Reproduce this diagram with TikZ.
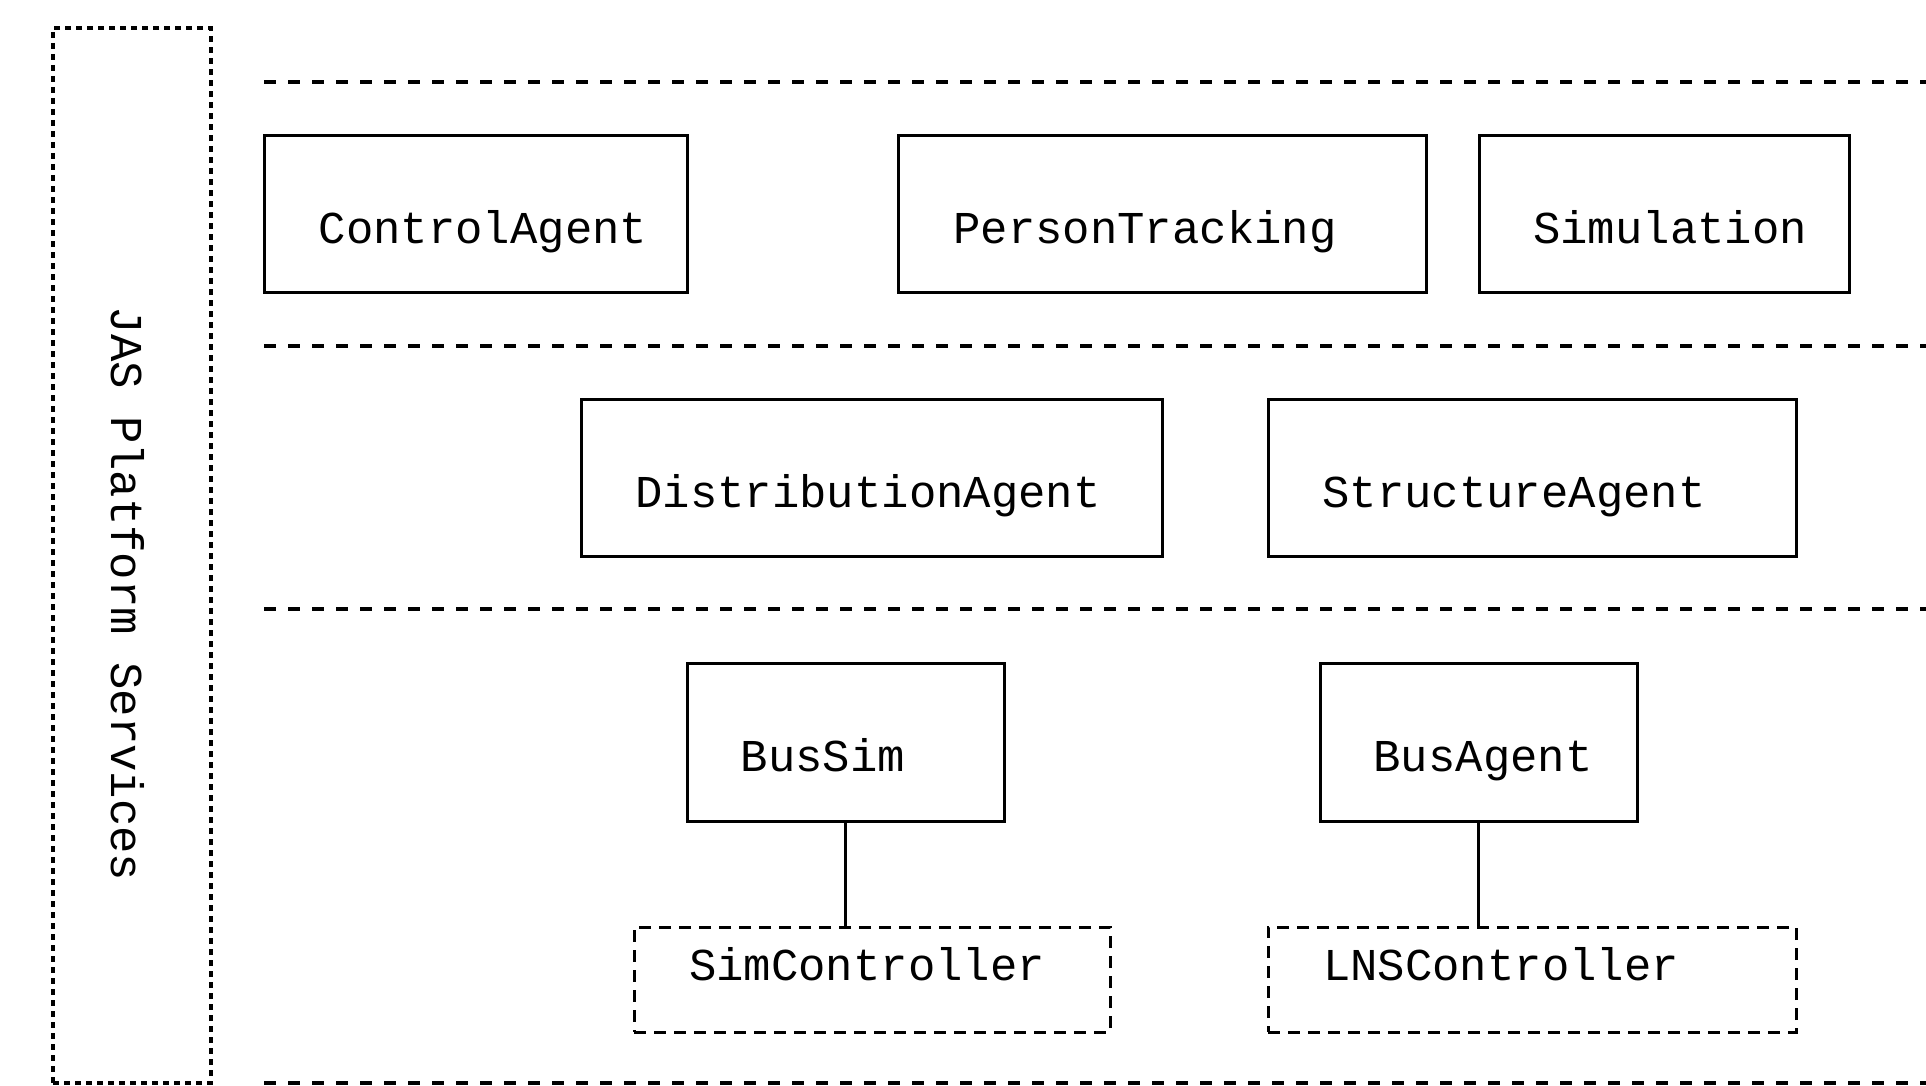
\documentclass[tikz,border=0pt]{standalone}
\usepackage{fontspec}
\setmonofont{Liberation Mono}
\begin{document}
\begin{tikzpicture}[x=0.5pt,y=-0.5pt,
  agent/.style={draw, line width=1.5pt, rectangle, inner sep=0pt},
  ctrl/.style={draw, line width=1.5pt, rectangle, inner sep=0pt, dash pattern=on 6pt off 4pt},
  layer/.style={line width=1.8pt, dash pattern=on 6pt off 6pt},
  txt/.style={font=\fontsize{22.8}{27}\selectfont\ttfamily, inner sep=0pt, anchor=base},
  link/.style={line width=1.5pt}]
\useasboundingbox (0,0) rectangle (1926,1086);

% platform services column
\node[draw, line width=1.6pt, dash pattern=on 3pt off 2.5pt, rectangle, inner sep=0pt,
      minimum width=79pt, minimum height=527.5pt] (jas) at (132,555.5) {};
\node[font=\fontsize{22.8}{27}\selectfont\ttfamily, inner sep=0pt, rotate=-90] (jastxt) at (128,594) {JAS Platform Services};

% layer separators
\coordinate (l1a) at (264,82);   \coordinate (l1b) at (1926,82);
\coordinate (l2a) at (264,346);  \coordinate (l2b) at (1926,346);
\coordinate (l3a) at (264,609);  \coordinate (l3b) at (1926,609);
\coordinate (l4a) at (264,1083); \coordinate (l4b) at (1926,1083);
\draw[layer] (l1a) -- (l1b);
\draw[layer] (l2a) -- (l2b);
\draw[layer] (l3a) -- (l3b);
\draw[layer] (l4a) -- (l4b);

% top layer
\node[agent, minimum width=211.5pt, minimum height=78.5pt] (control) at (475.5,213.5) {};
\node[agent, minimum width=264pt, minimum height=78.5pt] (person) at (1162,213.5) {};
\node[agent, minimum width=185pt, minimum height=78.5pt] (sim) at (1664,213.5) {};
\node[txt] (controltxt) at (483,243) {ControlAgent};
\node[txt] (persontxt) at (1145,243) {PersonTracking};
\node[txt] (simtxt) at (1670,243) {Simulation};

% middle layer
\node[agent, minimum width=290.5pt, minimum height=78.5pt] (distr) at (871.5,477.5) {};
\node[agent, minimum width=264pt, minimum height=78.5pt] (struct) at (1532,477.5) {};
\node[txt] (distrtxt) at (868,507) {DistributionAgent};
\node[txt] (structtxt) at (1514,507) {StructureAgent};

% bottom layer
\node[agent, minimum width=158.5pt, minimum height=79pt] (bussim) at (845.5,742) {};
\node[agent, minimum width=158.5pt, minimum height=79pt] (busagent) at (1478.5,742) {};
\node[txt] (bussimtxt) at (823,771) {BusSim};
\node[txt] (busagenttxt) at (1483,771) {BusAgent};

\node[ctrl, minimum width=238pt, minimum height=52.5pt] (simctrl) at (872,979.5) {};
\node[ctrl, minimum width=264pt, minimum height=52.5pt] (lnsctrl) at (1532,979.5) {};
\node[txt] (simctrltxt) at (867,980) {SimController};
\node[txt] (lnsctrltxt) at (1501,980) {LNSController};

\draw[link] (bussim.south) -- (bussim.south |- simctrl.north);
\draw[link] (busagent.south) -- (busagent.south |- lnsctrl.north);
\end{tikzpicture}
\end{document}
